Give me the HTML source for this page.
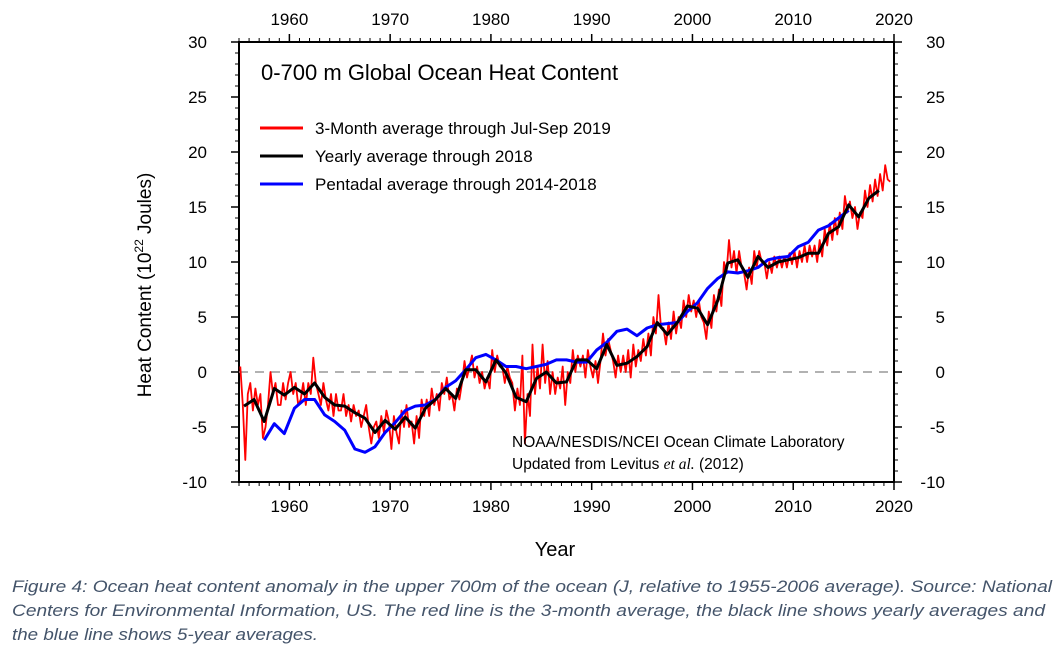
<!DOCTYPE html>
<html><head><meta charset="utf-8"><style>
body{margin:0;background:#fff;width:1058px;height:654px;overflow:hidden}
svg text{font-family:"Liberation Sans",sans-serif}
</style></head><body>
<svg id="chart" width="1058" height="654" xmlns="http://www.w3.org/2000/svg">
<g id="g"></g>
</svg>
<script>
const yearlyStart = 1955;
const yearlyValues = [-3.1,-2.5,-4.5,-1.5,-2.1,-1.4,-2.0,-1.0,-2.3,-3.0, -3.1,-3.7,-4.2,-5.5,-4.4,-5.2,-4.1,-5.1,-3.3,-2.5, -1.5,-2.4,0.2,0.2,-0.9,1.1,-0.1,-2.3,-2.7,-0.6, 0,-1.0,-0.9,1.1,1.1,0.3,2.5,0.6,0.8,1.4, 2.3,4.5,3.4,4.5,6.0,5.8,4.3,6.5,9.9,10.2, 8.6,10.5,9.5,10.0,10.2,10.4,10.8,10.8,12.6,13.2, 15.2,14.1,15.8,16.5];
const pentadStart = 1957;
const pentadValues = [-6.2,-4.7,-5.6,-3.3,-2.5,-2.5,-3.9,-4.5,-5.3,-7.0, -7.3,-6.8,-5.5,-4.6,-3.5,-3.1,-3.0,-2.5,-1.4,-0.8, 0.2,1.3,1.6,1.1,0.5,0.5,0.3,0.5,0.7,1.1, 1.1,0.9,0.9,2.0,2.7,3.7,3.9,3.3,4.0,4.3, 4.4,4.5,5.5,6.3,7.6,8.5,9.1,9.0,9.2,9.5, 10.2,10.4,10.5,11.4,11.8,12.9,13.3,14.0,14.7];
const quarterStart = 1955;
const quarterValues = [
0.5,-3,-8,-2, -1,-3.5,-1.5,-3, -2,-6,-5,-3, 0,-2,-1,-3, -3,-1,-2.5,-1,
0,-2,-1,-3, -2.5,-1,-3,-1, -2,1.3,-1,-2, -3,-1,-2.5,-3.5, -2,-4,-2,-3.5,
-3.5,-2,-4,-3, -4.5,-3,-4,-3.5, -5,-4,-3,-5, -6.5,-5,-4.5,-6, -4,-5.5,-3.5,-4.5,
-7,-4,-5.5,-6.5, -3.5,-5,-3,-5, -4.5,-6.5,-4,-6, -2.5,-4,-2.5,-4, -1.5,-3,-2,-3.5,
-1,-2,-0.5,-2.5, -2,-3.5,-1.5,-2.5, -1,1,-0.5,0.5, 1.5,-0.5,0.5,-1, 0,-1.5,-0.5,-1.5,
2,0,1.5,0.5, 0.5,-1,0.5,-0.5, -1,-3.5,-1.5,-3, 1.5,-6.5,-2,-4, 2.5,-2,0.5,-1.5,
2.5,-1,1,-2, 0,-2,-0.5,-1.5, 0.5,-3,0,-1, 2,0,1.5,0.5, 1.5,-0.5,2,0.5,
-0.5,1,-1,1, 3.5,1.5,3,2, 1,-0.5,1.5,0, 1.5,0,2,-0.5, 2.5,0.5,2,1,
3,1.5,3.5,1.5, 5,3.5,7,4, 4,2.5,4.5,3, 5.5,3.5,5,4, 6.5,5,7,5.5,
6.5,5,6.5,5, 4.5,3,5.5,4, 7,5.5,7.5,6, 10,9,12,9.5, 11,9,11,9.5,
9,7.5,9.5,8, 11,9.5,11,10, 10,8.5,10,9, 10.5,9.5,10.5,9.5, 10.5,9.5,10.8,9.8,
11,9.5,11,10, 11.5,10,11.5,10.5, 11.5,10,12,10.5, 13,11.5,13.5,12, 14,12.5,14.5,13,
16,14.5,15.5,14, 15,13,14.5,14, 16.5,15,17,15.5, 17.5,16,18,16.5, 18.8,17.5,17.3];
const xTicks = [1960,1970,1980,1990,2000,2010,2020];
const yTicks = [-10,-5,0,5,10,15,20,25,30];

const NS="http://www.w3.org/2000/svg";
const g=document.getElementById('g');
const X0=239,X1=894,Y0=42,Y1=482;
const xs=yr=>X0+(yr-1955)*(X1-X0)/65;
const ys=v=>Y1-(v+10)*(Y1-Y0)/40;
function mk(t,a,txt){const e=document.createElementNS(NS,t);for(const k in a)e.setAttribute(k,a[k]);if(txt!==undefined)e.textContent=txt;g.appendChild(e);return e;}
// frame
let e=mk('rect',{x:X0,y:Y0,width:X1-X0,height:Y1-Y0,fill:'none',stroke:'#000','stroke-width':2});


// zero line
e=mk('line',{x1:X0,x2:X1,y1:ys(0),y2:ys(0),stroke:'#999','stroke-width':1.5,'stroke-dasharray':'9,7'});


// ticks
for(let yr=1955;yr<=2020;yr++){const maj=yr%10==0,L=maj?8:4,x=xs(yr);
 mk('line',{x1:x,x2:x,y1:Y0,y2:Y0-L,stroke:'#000','stroke-width':maj?1.5:1});
 mk('line',{x1:x,x2:x,y1:Y1,y2:Y1+L,stroke:'#000','stroke-width':maj?1.5:1});}
for(let v=-10;v<=30;v++){const maj=v%5==0,L=maj?8:4,y=ys(v);
 mk('line',{x1:X0,x2:X0-L,y1:y,y2:y,stroke:'#000','stroke-width':maj?1.5:1});
 mk('line',{x1:X1,x2:X1+L,y1:y,y2:y,stroke:'#000','stroke-width':maj?1.5:1});}
xTicks.forEach(t=>{
 e=mk('text',{x:xs(t),y:25,'font-size':17,'text-anchor':'middle'},t);
 
 
 e=mk('text',{x:xs(t),y:512,'font-size':17,'text-anchor':'middle'},t);
 
 });
yTicks.forEach(t=>{
 e=mk('text',{x:207,y:ys(t)+6,'font-size':17,'text-anchor':'end'},t);
 
 
 e=mk('text',{x:945,y:ys(t)+6,'font-size':17,'text-anchor':'end'},t);
 
 });
// series
function line(pts,col,w,name){e=mk('polyline',{points:pts.map(p=>p[0].toFixed(1)+','+p[1].toFixed(1)).join(' '),fill:'none',stroke:col,'stroke-width':w,'stroke-linejoin':'round'});
 
 }
line(quarterValues.map((v,i)=>[xs(quarterStart+(i+0.5)/4),ys(v)]),'#f00',1.8,'quarterly-series');
line(pentadValues.map((v,i)=>[xs(pentadStart+i+0.5),ys(v)]),'#00f',3,'pentadal-series');
line(yearlyValues.map((v,i)=>[xs(yearlyStart+i+0.5),ys(v)]),'#000',3,'yearly-series');
// title & legend
e=mk('text',{x:261,y:80,'font-size':22},'0-700 m Global Ocean Heat Content');


[['#f00','3-Month average through Jul-Sep 2019',128],['#000','Yearly average through 2018',156],['#00f','Pentadal average through 2014-2018',184]].forEach(l=>{
 e=mk('line',{x1:260,x2:303,y1:l[2],y2:l[2],stroke:l[0],'stroke-width':3});
 
 
 e=mk('text',{x:315,y:l[2]+6,'font-size':17},l[1]);
 
 });
e=mk('text',{x:512,y:447,'font-size':15.5},'NOAA/NESDIS/NCEI Ocean Climate Laboratory');


e=mk('text',{x:512,y:469,'font-size':15.5});


e.innerHTML='Updated from Levitus <tspan font-family="Liberation Serif" font-style="italic">et al.</tspan> (2012)';
e=mk('text',{x:555,y:556,'font-size':20,'text-anchor':'middle'},'Year');


e=mk('text',{transform:'translate(151,285) rotate(-90)','font-size':19,'text-anchor':'middle'});


e.innerHTML='Heat Content (10<tspan font-size="12" dy="-8">22</tspan><tspan dy="8"> Joules)</tspan>';
const cap=[['Figure 4: Ocean heat content anomaly in the upper 700m of the ocean (J, relative to 1955-2006 average). Source: National',1040,592],['Centers for Environmental Information, US. The red line is the 3-month average, the black line shows yearly averages and',1033,616],['the blue line shows 5-year averages.',306,640]];
cap.forEach(c=>{e=mk('text',{x:12,y:c[2],'font-size':17,'font-style':'italic',fill:'#44546a',textLength:c[1],lengthAdjust:'spacingAndGlyphs'},c[0]);
 
 });
</script>
</body></html>
